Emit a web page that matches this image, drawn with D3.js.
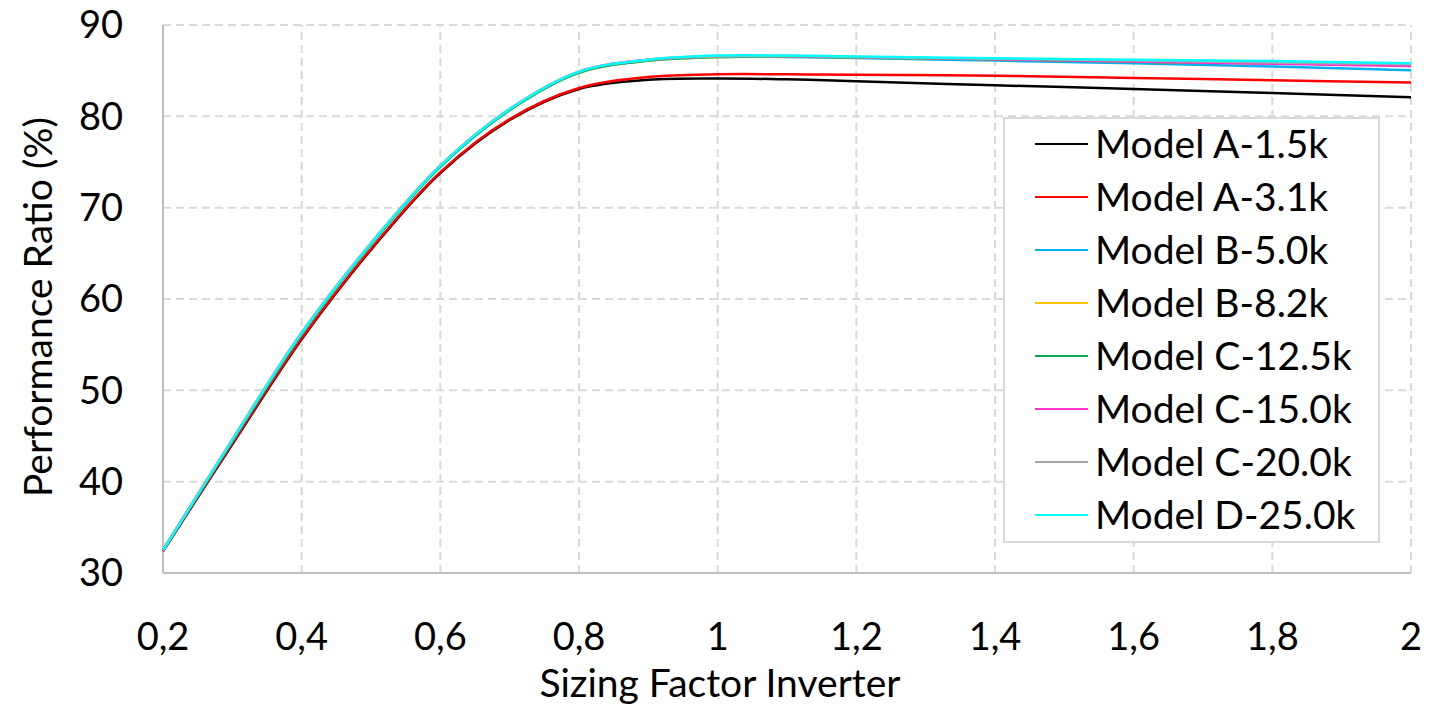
<!DOCTYPE html>
<html>
<head>
<meta charset="utf-8">
<script src="https://cdn.jsdelivr.net/npm/d3@7"></script>
<style>
  body { margin: 0; background: #fff; }
  text { font-family: Lato, "Open Sans", sans-serif; fill: #000; }
</style>
</head>
<body>
<div id="chart"></div>
<script>
// chart size
const width = 1430
const height = 707
const margin = {top: 25, right: 19, bottom: 134, left: 163}

// data
const xValues = [0.2, 0.3, 0.4, 0.5, 0.6, 0.7, 0.8, 0.9, 1.0, 1.1, 1.2, 1.4, 1.6, 1.8, 2.0]
const seriesNames = ["Model A-1.5k", "Model A-3.1k", "Model B-5.0k", "Model B-8.2k",
                     "Model C-12.5k", "Model C-15.0k", "Model C-20.0k", "Model D-25.0k"]
const seriesColors = ["#000000", "#FF0000", "#00B0F0", "#FFC000",
                      "#00B050", "#FF33CC", "#A5A5A5", "#00FFFF"]
const modelA15 = [32.4, 44.1, 55.6, 65.4, 73.8, 79.6, 83.0, 84.0, 84.15, 84.05, 83.85, 83.4, 83.0, 82.55, 82.1]
const modelA31 = [32.4, 44.2, 55.7, 65.5, 73.9, 79.7, 83.1, 84.3, 84.6, 84.6, 84.55, 84.45, 84.2, 83.95, 83.7]
const modelB50 = [32.5, 44.5, 56.2, 66.0, 74.5, 80.7, 84.8, 86.1, 86.5, 86.5, 86.4, 86.1, 85.8, 85.45, 85.05]
const modelB82 = [32.5, 44.5, 56.2, 66.0, 74.5, 80.7, 84.8, 86.1, 86.5, 86.55, 86.45, 86.25, 86.0, 85.8, 85.6]
const modelC125 = [32.5, 44.5, 56.2, 66.0, 74.5, 80.7, 84.8, 86.1, 86.5, 86.55, 86.45, 86.25, 86.0, 85.8, 85.6]
const modelC150 = [32.5, 44.6, 56.3, 66.1, 74.6, 80.8, 84.9, 86.2, 86.6, 86.6, 86.5, 86.25, 86.0, 85.75, 85.5]
const modelC200 = [32.5, 44.6, 56.3, 66.1, 74.6, 80.8, 84.9, 86.2, 86.55, 86.6, 86.5, 86.3, 86.1, 85.9, 85.7]
const modelD250 = [32.5, 44.6, 56.3, 66.1, 74.6, 80.8, 84.9, 86.2, 86.65, 86.65, 86.55, 86.35, 86.2, 86.05, 85.8]
const seriesValues = [modelA15, modelA31, modelB50, modelB82, modelC125, modelC150, modelC200, modelD250]
const xTicks = [0.2, 0.4, 0.6, 0.8, 1.0, 1.2, 1.4, 1.6, 1.8, 2.0]
const yTicks = [30, 40, 50, 60, 70, 80, 90]

const svg = d3.select("#chart")
  .append("svg")
    .attr("width", width)
    .attr("height", height)

const x = d3.scaleLinear()
  .domain([0.2, 2])
  .range([margin.left, width - margin.right])
const y = d3.scaleLinear()
  .domain([30, 90])
  .range([height - margin.bottom, margin.top])

// dashed grid
svg.append("g")
  .selectAll("line")
  .data(yTicks.slice(1))
  .join("line")
    .attr("x1", x(0.2)).attr("x2", x(2))
    .attr("y1", d => y(d)).attr("y2", d => y(d))
    .attr("stroke", "#d9d9d9").attr("stroke-width", 2)
    .attr("stroke-dasharray", "8,5")
svg.append("g")
  .selectAll("line")
  .data(xTicks.slice(1))
  .join("line")
    .attr("x1", d => x(d)).attr("x2", d => x(d))
    .attr("y1", y(30)).attr("y2", y(90))
    .attr("stroke", "#d9d9d9").attr("stroke-width", 2)
    .attr("stroke-dasharray", "8,5")

// axes lines (solid)
svg.append("line")
  .attr("x1", x(0.2)).attr("x2", x(0.2))
  .attr("y1", y(30)).attr("y2", y(90))
  .attr("stroke", "#bfbfbf").attr("stroke-width", 2)
svg.append("line")
  .attr("x1", x(0.2)).attr("x2", x(2))
  .attr("y1", y(30)).attr("y2", y(30))
  .attr("stroke", "#bfbfbf").attr("stroke-width", 2)

// tick labels
const fmt = d => String(+d.toFixed(1)).replace(".", ",")
svg.append("g")
  .selectAll("text")
  .data(yTicks)
  .join("text")
    .attr("x", x(0.2) - 40)
    .attr("y", d => y(d))
    .attr("dy", "0.35em")
    .attr("text-anchor", "end")
    .style("font-size", "38px")
    .text(d => d)
svg.append("g")
  .selectAll("text")
  .data(xTicks)
  .join("text")
    .attr("x", d => x(d))
    .attr("y", y(30) + 77)
    .attr("text-anchor", "middle")
    .style("font-size", "38px")
    .text(fmt)

// axis titles
svg.append("text")
  .attr("x", 720)
  .attr("y", 697)
  .attr("text-anchor", "middle")
  .style("font-size", "39px")
  .text("Sizing Factor Inverter")
svg.append("text")
  .attr("transform", "translate(52,307) rotate(-90)")
  .attr("text-anchor", "middle")
  .style("font-size", "39px")
  .text("Performance Ratio (%)")

// lines
const line = d3.line()
  .x((d, i) => x(xValues[i]))
  .y(d => y(d))
  .curve(d3.curveCatmullRom.alpha(0.5))
svg.append("g")
  .selectAll("path")
  .data(seriesValues)
  .join("path")
    .attr("d", line)
    .attr("fill", "none")
    .attr("stroke", (d, i) => seriesColors[i])
    .attr("stroke-width", 2.5)

// legend
const legend = svg.append("g")
  .attr("transform", "translate(1004,118)")
legend.append("rect")
  .attr("width", 375).attr("height", 424)
  .attr("fill", "#fff")
  .attr("stroke", "#d9d9d9").attr("stroke-width", 2)
const legendItems = legend.selectAll(".legend-item")
  .data(seriesNames)
  .join("g")
    .attr("class", "legend-item")
    .attr("transform", (d, i) => `translate(0,${26 + i * 53})`)
legendItems.append("line")
  .attr("x1", 31).attr("x2", 84)
  .attr("stroke", (d, i) => seriesColors[i])
  .attr("stroke-width", 2)
legendItems.append("text")
  .attr("x", 91)
  .attr("dy", "0.35em")
  .style("font-size", "39px")
  .text(d => d)
</script>
</body>
</html>
